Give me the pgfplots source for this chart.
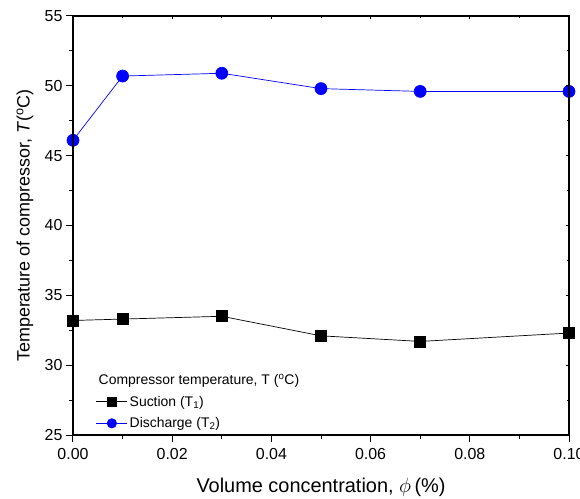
\documentclass[border=0pt]{standalone}
\usepackage{fontspec}
\setmainfont{Liberation Sans}
\usepackage{pgfplots}
\pgfplotsset{compat=1.18}
\begin{document}
\begin{tikzpicture}
\pgfplotsset{
  common/.style={
    scale only axis, width=496bp, height=419bp,
    xmin=0, xmax=0.10, ymin=25, ymax=55,
    at={(0,0)}, anchor=south west,
    axis line style={line width=1.3bp},
    xtick={0,0.02,0.04,0.06,0.08,0.10},
    minor xtick={0.01,0.03,0.05,0.07,0.09},
    ytick={25,30,35,40,45,50,55},
    minor ytick={27.5,32.5,37.5,42.5,47.5,52.5},
    tick style={line width=1bp, black},
  }
}
\begin{axis}[common,
  tick align=outside,
  xtick pos=bottom, ytick pos=left,
  major tick length=7bp, minor tick length=4bp,
  xticklabel style={/pgf/number format/fixed,/pgf/number format/fixed zerofill,/pgf/number format/precision=2, yshift=-3bp},
  /pgf/number format/assume math mode=true,
  ticklabel style={font=\fontsize{16}{16}\selectfont},
  scaled x ticks=false,
  xlabel={Volume concentration, $\phi$\,(\%)},
  ylabel={Temperature of compressor, \textit{T}(\textsuperscript{o}C)},
  xlabel style={font=\fontsize{20}{20}\selectfont, at={(axis description cs:0.5,0)}, anchor=center, yshift=-52bp},
  ylabel style={font=\fontsize{18}{18}\selectfont, at={(axis description cs:0,0.5)}, anchor=center, yshift=48bp},
  legend style={draw=none, fill=none, at={(0.04,0.004)}, anchor=south west,
    font=\fontsize{14}{14}\selectfont, row sep=6bp},
  legend cell align=left,
  legend image code/.code={\draw[mark repeat=2,mark phase=2,#1] plot coordinates {(0bp,0bp) (15.5bp,0bp) (31bp,0bp)};},
  legend image post style={mark options={scale=0.78}},
  clip=false,
]
\addlegendimage{empty legend}
\addlegendentry{\hspace*{-31bp}Compressor temperature, T (\textsuperscript{o}C)}
\addplot[black, line width=0.7bp, mark=square*, mark size=5.5bp] coordinates {
(0,33.2) (0.01,33.3) (0.03,33.5) (0.05,32.1) (0.07,31.7) (0.10,32.3)};
\addlegendentry{Suction (T\textsubscript{1})}
\addplot[blue, line width=0.7bp, mark=*, mark size=6bp] coordinates {
(0,46.1) (0.01,50.7) (0.03,50.9) (0.05,49.8) (0.07,49.6) (0.10,49.6)};
\addlegendentry{Discharge (T\textsubscript{2})}
\end{axis}
\begin{axis}[common,
  tick align=inside,
  xtick pos=top, ytick pos=right,
  xticklabels={}, yticklabels={},
  major tick length=3bp, minor tick length=2bp,
]
\end{axis}
\pgfresetboundingbox
\path[use as bounding box] (-73bp,-64bp) rectangle (507bp,435bp);
\end{tikzpicture}
\end{document}
